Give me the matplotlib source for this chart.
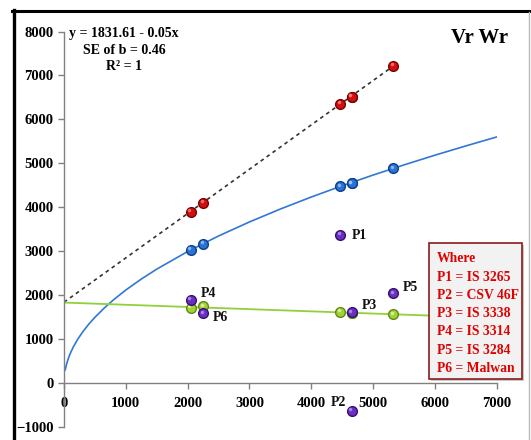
import matplotlib.pyplot as plt
import matplotlib.transforms as mtransforms
from matplotlib.patches import Rectangle
from matplotlib.lines import Line2D

plt.rcParams['font.family'] = ['Liberation Serif', 'DejaVu Serif']

# Vr and Wr for parents P1..P6
parents = ['P1', 'P2', 'P3', 'P4', 'P5', 'P6']
vr = [4470, 4655, 4655, 2055, 5328, 2254]
wr = [3368, -630, 1609, 1889, 2041, 1586]

# limiting parabola points at the parents
wr_limit = [4480, 4545, 4545, 3027, 4886, 3163]
# upper points (dashed line)
wr_upper = [6350, 6516, 6516, 3898, 7214, 4103]
# points on the regression line
wr_reg = [1620, 1600, 1600, 1715, 1565, 1745]

# limiting parabola
curve_x = [20, 40, 70, 100, 150, 220, 300, 400, 500, 650, 800, 1000, 1250, 1500,
           2000, 2500, 3000, 3500, 4000, 4500, 5000, 5500, 6000, 6500, 7000]
curve_y = [300, 423, 560, 669, 820, 993, 1159, 1339, 1497, 1706, 1893, 2117, 2366, 2592,
           2993, 3347, 3666, 3960, 4233, 4490, 4733, 4964, 5185, 5396, 5600]

# regression line y = 1831.61 - 0.05x
reg_x = [0, 7000]
reg_y = [1831.61, 1481.61]

# dashed line through upper points
dash_x = [0, 5328]
dash_y = [1840, 7214]

# label offsets (points)
label_off = {'P1': (8, 0), 'P2': (-4, 6), 'P3': (7, 5), 'P4': (7, 5), 'P5': (7, 4), 'P6': (7, -3)}

fig = plt.figure(figsize=(5.31, 4.40), dpi=100)
ax = fig.add_axes([64 / 531, 1 - 427 / 440, (496.7 - 64) / 531, (427 - 31.5) / 440])

ax.plot(dash_x, dash_y, color='#333333', linestyle=(0, (2.2, 2.2)), linewidth=1.2, zorder=2)
ax.plot(curve_x, curve_y, color='#2f78d4', linewidth=1.2, zorder=2)
ax.plot(reg_x, reg_y, color='#8fd13a', linewidth=1.3, zorder=2)

# glossy markers: main dot + small highlight shifted up-left
ms = 7
shine = mtransforms.offset_copy(ax.transData, fig=fig, x=-1.2, y=1.2, units='points')
series = [(wr_upper, '#d01010', '#7a0000', '#ff8080', 3),
          (wr_limit, '#2a72d6', '#0d3f8a', '#9cc8ff', 3),
          (wr_reg, '#a3d13a', '#5f8a12', '#e4f7a8', 3),
          (wr, '#6a2fc0', '#35106e', '#b998f0', 4)]
for yv, fc, ec, hc, z in series:
    ax.plot(vr, yv, 'o', color=fc, markeredgecolor=ec, markersize=ms, zorder=z)
    ax.plot(vr, yv, 'o', color=hc, markeredgewidth=0, markersize=2.5, alpha=0.8,
            transform=shine, zorder=z)

for p, x, y in zip(parents, vr, wr):
    dx, dy = label_off[p]
    ax.annotate(p, (x, y), xytext=(dx, dy), textcoords='offset points',
                ha='right' if dx < 0 else 'left', va='center',
                fontsize=10, fontweight='bold', color='#111111')

ax.set_xlim(0, 7000)
ax.set_ylim(-1000, 8000)
ax.set_xticks(range(0, 7001, 1000))
ax.set_yticks(range(-1000, 8001, 1000))

ax.spines['top'].set_visible(False)
ax.spines['right'].set_visible(False)
ax.spines['bottom'].set_position(('data', 0))
for s in ['left', 'bottom']:
    ax.spines[s].set_color('#808080')
    ax.spines[s].set_linewidth(1.0)
ax.tick_params(axis='both', direction='out', length=4, color='#808080', width=1.0,
               labelsize=10.5)
ax.tick_params(axis='x', pad=6)
for lab in ax.get_xticklabels() + ax.get_yticklabels():
    lab.set_fontweight('bold')

# equation text
eq_lines = ['y = 1831.61 - 0.05x', 'SE of b = 0.46', 'R² = 1']
for t, yp in zip(eq_lines, [33, 50, 66]):
    fig.text(124 / 531, 1 - yp / 440, t, ha='center', va='center',
             fontsize=10, fontweight='bold')

# title in the corner
fig.text(480 / 531, 1 - 38 / 440, 'Vr Wr', ha='center', va='center',
         fontsize=15, fontweight='bold')

# "Where" box
fig.add_artist(Rectangle((431 / 531, 1 - 381 / 440), 93 / 531, 136 / 440,
                         transform=fig.transFigure, facecolor='#c8c8c8',
                         edgecolor='none', zorder=4))
fig.add_artist(Rectangle((429 / 531, 1 - 379 / 440), 93 / 531, 136 / 440,
                         transform=fig.transFigure, facecolor='#f2f2f2',
                         edgecolor='#8b1a1a', linewidth=1.2, zorder=5))
box_lines = ['Where', 'P1 = IS 3265', 'P2 = CSV 46F', 'P3 = IS 3338',
             'P4 = IS 3314', 'P5 = IS 3284', 'P6 = Malwan']
for i, t in enumerate(box_lines):
    fig.text(437 / 531, 1 - (259 + i * 18.2) / 440, t, ha='left', va='center',
             fontsize=9.8, fontweight='bold', color='#e00000', zorder=6)

# outer frame of the picture
fig.add_artist(Line2D([12 / 531, 1], [1 - 11 / 440] * 2, transform=fig.transFigure,
                      color='black', linewidth=2.2))
fig.add_artist(Line2D([13.5 / 531] * 2, [0, 1 - 10 / 440], transform=fig.transFigure,
                      color='black', linewidth=2.4))
fig.add_artist(Line2D([529 / 531] * 2, [0, 1 - 12 / 440], transform=fig.transFigure,
                      color='#bbbbbb', linewidth=1.0))

fig.savefig('out.png', dpi=100)
